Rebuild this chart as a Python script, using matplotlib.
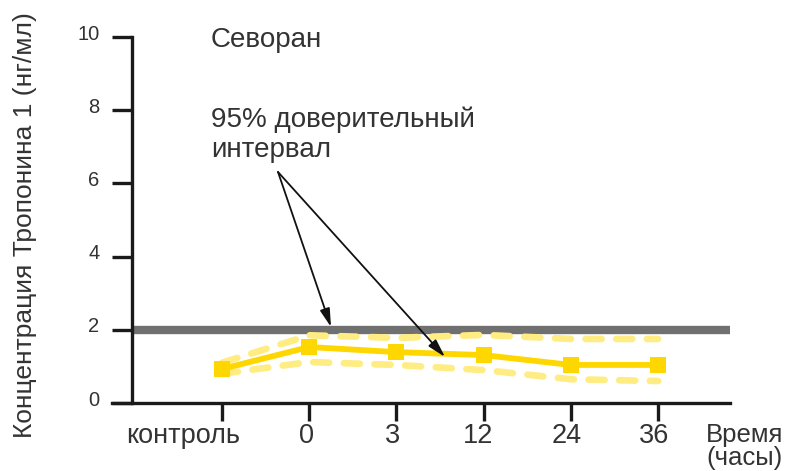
import matplotlib
matplotlib.use("Agg")
import matplotlib.pyplot as plt
from matplotlib.transforms import ScaledTranslation, blended_transform_factory

plt.rcParams['font.family'] = ['Liberation Sans', 'DejaVu Sans']

categories = ["контроль", "0", "3", "12", "24", "36"]
mean_values = [0.93, 1.53, 1.39, 1.31, 1.04, 1.04]
ci_upper = [1.10, 1.85, 1.78, 1.86, 1.75, 1.75]
ci_lower = [0.80, 1.12, 1.04, 0.90, 0.65, 0.60]
reference_level = 2.0
y_ticks = [0, 2, 4, 6, 8, 10]

TXT = "#333333"
W, H = 799, 471
fig = plt.figure(figsize=(W / 100, H / 100), dpi=100)
ax = fig.add_axes([112 / W, 1 - 403 / H, (730 - 112) / W, (403 - 37) / H])

step = 87.2
x0 = -(222 - 112) / step
x1 = (730 - 222) / step
xspine = -(222 - 132) / step
ax.set_xlim(x0, x1)
ax.set_ylim(0, 10)

xs = list(range(len(categories)))

# threshold line
ax.plot([xspine, x1], [reference_level, reference_level], color="#707070",
        lw=6, solid_capstyle="butt", zorder=2)

# confidence band edges
dash_kw = dict(color="#FFEC82", lw=4.8, dashes=(2.4, 2.2), dash_capstyle="round", zorder=3)
ax.plot(xs, ci_upper, **dash_kw)
ax.plot(xs, ci_lower, **dash_kw)

# mean curve
ax.plot(xs, mean_values, color="#FFD700", lw=4.2, marker="s", markersize=11,
        markeredgewidth=0, zorder=4)

# spines and ticks
for s in ["top", "right"]:
    ax.spines[s].set_visible(False)
ax.spines["left"].set_position(("data", xspine))
ax.spines["left"].set_bounds(0, 10)
for s in ["left", "bottom"]:
    ax.spines[s].set_linewidth(2.4)
    ax.spines[s].set_color("#1a1a1a")
ax.spines["left"].set_zorder(5)

ax.set_yticks(y_ticks)
ax.set_yticklabels([str(v) for v in y_ticks])
ax.set_xticks(xs)
ax.set_xticklabels([])
ax.tick_params(axis="y", length=14.5, width=2.4, pad=9, labelsize=14.5,
               color="#1a1a1a", labelcolor=TXT)
ax.tick_params(axis="x", length=13, width=2.4, color="#1a1a1a")
for lab in ax.get_yticklabels():
    lab.set_transform(lab.get_transform() + ScaledTranslation(0, 5 / 100, fig.dpi_scale_trans))

# category labels under the axis
xl_trans = blended_transform_factory(ax.transData, fig.transFigure)
offsets_px = [-39, -3, -4, -6, -4, -4]
for x, lab, dx in zip(xs, categories, offsets_px):
    ax.text(x, 1 - 443 / H, lab, transform=xl_trans + ScaledTranslation(dx / 100, 0, fig.dpi_scale_trans),
            ha="center", va="baseline", fontsize=19.5, color=TXT)

fig.text(25 / W, 1 - 225 / H, "Концентрация Тропонина 1 (нг/мл)", rotation=90,
         ha="center", va="center", fontsize=19, color=TXT)
fig.text(706 / W, 1 - 442 / H, "Время", ha="left", va="baseline", fontsize=18.5, color=TXT)
fig.text(706 / W, 1 - 465 / H, "(часы)", ha="left", va="baseline", fontsize=18.5, color=TXT)

fig.text(211 / W, 1 - 47 / H, "Севоран", ha="left", va="baseline", fontsize=20, color=TXT)
fig.text(211 / W, 1 - 127 / H, "95% доверительный", ha="left", va="baseline", fontsize=20, color=TXT)
fig.text(211 / W, 1 - 157 / H, "интервал", ha="left", va="baseline", fontsize=20, color=TXT)

arrow_start = ((278 - 222) / step, (403 - 172) / 36.6)
targets = [((331 - 222) / step, (403 - 327) / 36.6), ((445 - 222) / step, (403 - 357) / 36.6)]
for tx, ty in targets:
    ax.annotate("", xy=(tx, ty), xytext=arrow_start,
                arrowprops=dict(arrowstyle="-|>,head_length=1.1,head_width=0.3",
                                color="#111111", lw=1.3, shrinkA=0, shrinkB=0),
                zorder=6)

fig.savefig("out.png", dpi=100)
